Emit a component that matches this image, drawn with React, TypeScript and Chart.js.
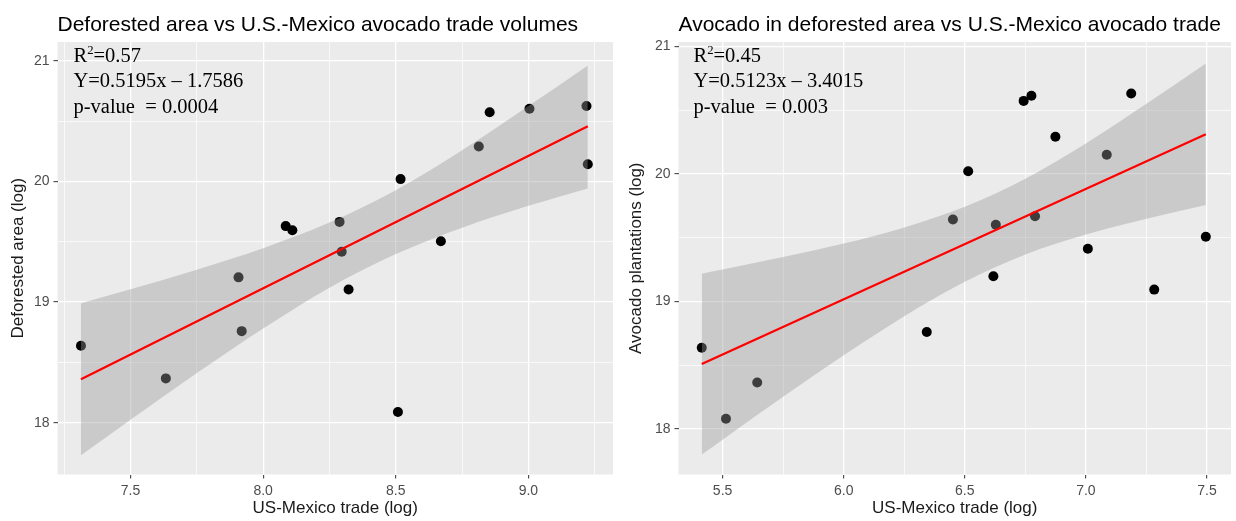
import React, { useEffect, useRef } from "react";
import { Chart, registerables } from "chart.js";

Chart.register(...registerables);

// ---------- Left panel data ----------
const LEFT_TITLE = "Deforested area vs U.S.-Mexico avocado trade volumes";
const LEFT_Y_TITLE = "Deforested area (log)";
const LEFT_X = [7.313, 7.633, 7.907, 7.919, 8.085, 8.11, 8.288, 8.296, 8.322, 8.518, 8.508, 8.67, 8.813, 8.854, 9.004, 9.219, 9.224];
const LEFT_Y = [18.638, 18.367, 19.205, 18.759, 19.63, 19.595, 19.665, 19.418, 19.104, 20.02, 18.088, 19.505, 20.29, 20.574, 20.604, 20.626, 20.143];
const LEFT_BAND_X = [7.313, 7.5, 7.75, 8.0, 8.25, 8.5, 8.75, 9.0, 9.224];
const LEFT_BAND_UPPER = [18.99, 19.106, 19.269, 19.447, 19.659, 19.928, 20.259, 20.626, 20.963];
const LEFT_BAND_LOWER = [17.73, 18.024, 18.411, 18.781, 19.119, 19.398, 19.617, 19.798, 19.943];
const LEFT_FIT_X = [7.313, 9.224];
const LEFT_FIT_Y = [18.36, 20.458];
const LEFT_X_TICKS = [7.25, 7.5, 7.75, 8.0, 8.25, 8.5, 8.75, 9.0, 9.25];
const LEFT_X_MAJOR = [7.5, 8.0, 8.5, 9.0];
const LEFT_X_RANGE = [7.2245, 9.319];
const LEFT_Y_RANGE = [17.57, 21.157];
const LEFT_STATS = ["0.57", "Y=0.5195x \u2013 1.7586", "p-value  = 0.0004"];

// ---------- Right panel data ----------
const RIGHT_TITLE = "Avocado in deforested area vs U.S.-Mexico avocado trade";
const RIGHT_Y_TITLE = "Avocado plantations (log)";
const RIGHT_X = [5.414, 5.514, 5.643, 6.343, 6.451, 6.514, 6.618, 6.628, 6.743, 6.775, 6.79, 6.874, 7.008, 7.086, 7.187, 7.282, 7.495];
const RIGHT_Y = [18.636, 18.079, 18.364, 18.759, 19.642, 20.021, 19.197, 19.601, 20.572, 20.612, 19.667, 20.291, 19.412, 20.15, 20.63, 19.092, 19.507];
const RIGHT_BAND_X = [5.414, 5.5, 5.75, 6.0, 6.25, 6.5, 6.75, 7.0, 7.25, 7.495];
const RIGHT_BAND_UPPER = [19.217, 19.249, 19.347, 19.453, 19.58, 19.742, 19.962, 20.238, 20.549, 20.865];
const RIGHT_BAND_LOWER = [17.799, 17.915, 18.251, 18.577, 18.884, 19.154, 19.368, 19.524, 19.647, 19.755];
const RIGHT_FIT_X = [5.414, 7.495];
const RIGHT_FIT_Y = [18.508, 20.31];
const RIGHT_X_TICKS = [5.5, 5.75, 6.0, 6.25, 6.5, 6.75, 7.0, 7.25, 7.5];
const RIGHT_X_MAJOR = [5.5, 6.0, 6.5, 7.0, 7.5];
const RIGHT_X_RANGE = [5.318, 7.599];
const RIGHT_Y_RANGE = [17.642, 21.034];
const RIGHT_STATS = ["0.45", "Y=0.5123x \u2013 3.4015", "p-value  = 0.003"];

// ---------- Shared ----------
const X_TITLE = "US-Mexico trade (log)";
const Y_TICKS = [18, 18.5, 19, 19.5, 20, 20.5, 21];
const Y_MAJOR = [18, 19, 20, 21];

const W = 618;
const H = 521;

const SANS = '"Liberation Sans", Arial, sans-serif';
const SERIF = '"Liberation Serif", "Times New Roman", serif';

const zip = (xs: number[], ys: number[]) => xs.map((x, i) => ({ x, y: ys[i] }));

const decorPlugin = {
  id: "decor",
  beforeDraw(chart: any, _args: any, opts: any) {
    const { ctx, chartArea: a } = chart;
    ctx.save();
    ctx.fillStyle = "#EBEBEB";
    ctx.fillRect(a.left, a.top, a.right - a.left, a.bottom - a.top);
    ctx.restore();
  },
  afterDraw(chart: any, _args: any, opts: any) {
    const { ctx, chartArea: a } = chart;
    ctx.save();
    ctx.fillStyle = "#000";
    ctx.textBaseline = "alphabetic";
    ctx.textAlign = "left";
    ctx.font = `21px ${SANS}`;
    ctx.fillText(opts.title, a.left, 30.5);

    const fs = 20.5;
    const base = `${fs}px ${SERIF}`;
    let x = a.left + opts.textInset;
    ctx.font = base;
    ctx.fillText("R", x, 62);
    x += ctx.measureText("R").width;
    ctx.font = `${fs * 0.62}px ${SERIF}`;
    ctx.fillText("2", x, 62 - fs * 0.4);
    x += ctx.measureText("2").width;
    ctx.font = base;
    ctx.fillText("=" + opts.stats[0], x, 62);
    ctx.fillText(opts.stats[1], a.left + opts.textInset, 87);
    ctx.fillText(opts.stats[2], a.left + opts.textInset, 112.5);
    ctx.restore();
  },
};

type Spec = {
  title: string;
  yTitle: string;
  px: number[];
  py: number[];
  bx: number[];
  bu: number[];
  bl: number[];
  fx: number[];
  fy: number[];
  xTicks: number[];
  xMajor: number[];
  xRange: number[];
  yRange: number[];
  stats: string[];
  yAxisWidth: number;
  padRight: number;
  textInset: number;
};

function Panel({ spec, left }: { spec: Spec; left: number }) {
  const ref = useRef<HTMLCanvasElement>(null);
  useEffect(() => {
    if (!ref.current) return;
    const isMajorX = (v: number) => spec.xMajor.some((m) => Math.abs(m - v) < 1e-9);
    const isMajorY = (v: number) => Y_MAJOR.some((m) => Math.abs(m - v) < 1e-9);
    const chart = new Chart(ref.current, {
      type: "scatter",
      data: {
        datasets: [
          {
            type: "scatter",
            data: zip(spec.px, spec.py),
            backgroundColor: "#000000",
            borderWidth: 0,
            pointRadius: 5,
            pointHoverRadius: 5,
            order: 3,
          },
          {
            type: "line",
            data: zip(spec.bx, spec.bu),
            borderWidth: 0,
            borderColor: "rgba(0,0,0,0)",
            backgroundColor: "rgba(153,153,153,0.4)",
            pointRadius: 0,
            fill: "+1",
            cubicInterpolationMode: "monotone",
            order: 2,
          },
          {
            type: "line",
            data: zip(spec.bx, spec.bl),
            borderWidth: 0,
            borderColor: "rgba(0,0,0,0)",
            pointRadius: 0,
            fill: false,
            cubicInterpolationMode: "monotone",
            order: 2,
          },
          {
            type: "line",
            data: zip(spec.fx, spec.fy),
            borderColor: "#FF0000",
            borderWidth: 2.2,
            pointRadius: 0,
            fill: false,
            order: 1,
          },
        ],
      } as any,
      options: {
        responsive: false,
        animation: false,
        devicePixelRatio: 1,
        events: [],
        layout: { padding: { top: 42, right: spec.padRight, bottom: 0, left: 0 } },
        plugins: {
          legend: { display: false },
          tooltip: { enabled: false },
          decor: { title: spec.title, stats: spec.stats, textInset: spec.textInset },
        } as any,
        scales: {
          x: {
            type: "linear",
            min: spec.xRange[0],
            max: spec.xRange[1],
            afterBuildTicks: (s: any) => {
              s.ticks = spec.xTicks.map((v) => ({ value: v }));
            },
            afterFit: (s: any) => {
              s.height = 46.5;
            },
            ticks: {
              autoSkip: false,
              maxRotation: 0,
              padding: 4,
              color: "#4D4D4D",
              font: { size: 14, family: SANS },
              callback: (v: any) => (isMajorX(Number(v)) ? Number(v).toFixed(1) : ""),
            },
            grid: {
              color: "#FFFFFF",
              lineWidth: (c: any) => (c.tick && isMajorX(c.tick.value) ? 1.3 : 0.7),
              tickColor: (c: any) => (c.tick && isMajorX(c.tick.value) ? "#333333" : "rgba(0,0,0,0)"),
              tickLength: 4,
              tickWidth: 1,
            },
            border: { display: false },
            title: {
              display: true,
              text: X_TITLE,
              color: "#1A1A1A",
              font: { size: 17, family: SANS },
              padding: { top: 0, bottom: 2 },
            },
          },
          y: {
            type: "linear",
            min: spec.yRange[0],
            max: spec.yRange[1],
            afterBuildTicks: (s: any) => {
              s.ticks = Y_TICKS.map((v) => ({ value: v }));
            },
            afterFit: (s: any) => {
              s.width = spec.yAxisWidth;
            },
            ticks: {
              autoSkip: false,
              padding: 4,
              color: "#4D4D4D",
              font: { size: 14, family: SANS },
              callback: (v: any) => (isMajorY(Number(v)) ? String(Number(v)) : ""),
            },
            grid: {
              color: "#FFFFFF",
              lineWidth: (c: any) => (c.tick && isMajorY(c.tick.value) ? 1.3 : 0.7),
              tickColor: (c: any) => (c.tick && isMajorY(c.tick.value) ? "#333333" : "rgba(0,0,0,0)"),
              tickLength: 4,
              tickWidth: 1,
            },
            border: { display: false },
            title: {
              display: true,
              text: spec.yTitle,
              color: "#1A1A1A",
              font: { size: 17, family: SANS },
              padding: { top: 8, bottom: 0 },
            },
          },
        },
      } as any,
      plugins: [decorPlugin],
    });
    return () => chart.destroy();
  }, []);
  return (
    <div style={{ position: "absolute", left, top: 0, width: W, height: H }}>
      <canvas ref={ref} width={W} height={H} style={{ display: "block", width: W, height: H }} />
    </div>
  );
}

const LEFT_SPEC: Spec = {
  title: LEFT_TITLE,
  yTitle: LEFT_Y_TITLE,
  px: LEFT_X,
  py: LEFT_Y,
  bx: LEFT_BAND_X,
  bu: LEFT_BAND_UPPER,
  bl: LEFT_BAND_LOWER,
  fx: LEFT_FIT_X,
  fy: LEFT_FIT_Y,
  xTicks: LEFT_X_TICKS,
  xMajor: LEFT_X_MAJOR,
  xRange: LEFT_X_RANGE,
  yRange: LEFT_Y_RANGE,
  stats: LEFT_STATS,
  yAxisWidth: 57.5,
  padRight: 5,
  textInset: 16,
};

const RIGHT_SPEC: Spec = {
  title: RIGHT_TITLE,
  yTitle: RIGHT_Y_TITLE,
  px: RIGHT_X,
  py: RIGHT_Y,
  bx: RIGHT_BAND_X,
  bu: RIGHT_BAND_UPPER,
  bl: RIGHT_BAND_LOWER,
  fx: RIGHT_FIT_X,
  fy: RIGHT_FIT_Y,
  xTicks: RIGHT_X_TICKS,
  xMajor: RIGHT_X_MAJOR,
  xRange: RIGHT_X_RANGE,
  yRange: RIGHT_Y_RANGE,
  stats: RIGHT_STATS,
  yAxisWidth: 60.5,
  padRight: 0,
  textInset: 15,
};

export default function App() {
  return (
    <div style={{ position: "fixed", left: 0, top: 0, width: 1236, height: 521, background: "#FFFFFF", overflow: "hidden" }}>
      <Panel spec={LEFT_SPEC} left={0} />
      <Panel spec={RIGHT_SPEC} left={618} />
    </div>
  );
}
